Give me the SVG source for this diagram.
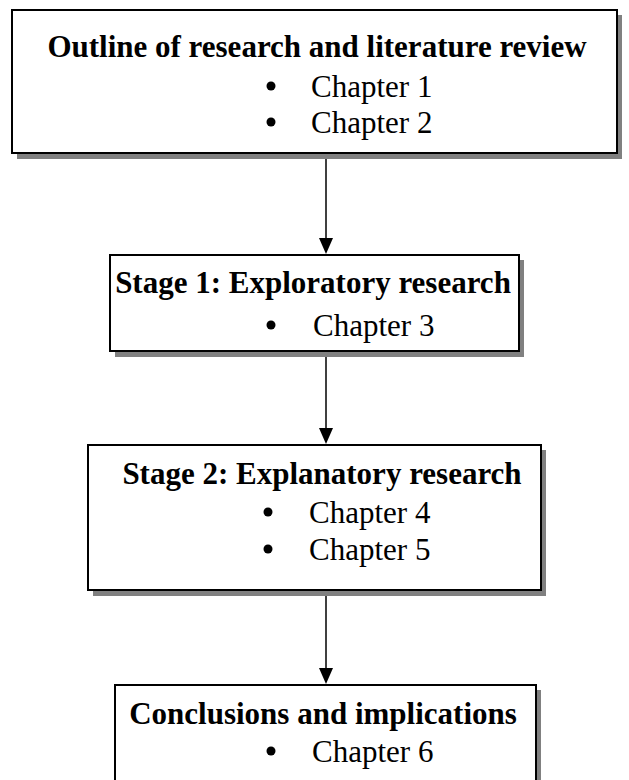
<svg xmlns="http://www.w3.org/2000/svg" width="629" height="780" viewBox="0 0 629 780">
<style>
.box{fill:#fff;stroke:#000;stroke-width:2}
.shadow{fill:#808080}
.t{font-family:"Liberation Serif","Times New Roman",serif;font-size:31px;fill:#000}
.b{font-weight:bold;text-anchor:middle}
.conn{stroke:#000;stroke-width:1.5;fill:none}
.ah{fill:#000}
</style>
<rect width="629" height="780" fill="#fff"/>
<g id="connectors">
<line class="conn" x1="326" y1="153" x2="326" y2="240"/>
<path class="ah" d="M319,238 L333,238 L326,254 Z"/>
<line class="conn" x1="326" y1="351" x2="326" y2="430"/>
<path class="ah" d="M319,428 L333,428 L326,444 Z"/>
<line class="conn" x1="326" y1="590" x2="326" y2="670"/>
<path class="ah" d="M319,668 L333,668 L326,684 Z"/>
</g>
<g id="node1">
<rect class="shadow" x="17" y="15" width="605" height="144"/>
<rect class="box" x="12" y="10" width="605" height="143"/>
<text class="t b" x="317" y="57">Outline of research and literature review</text>
<circle cx="271" cy="86" r="4.5"/>
<text class="t" x="311" y="97">Chapter 1</text>
<circle cx="271" cy="122" r="4.5"/>
<text class="t" x="311" y="133">Chapter 2</text>
</g>
<g id="node2">
<rect class="shadow" x="115" y="260" width="409" height="97"/>
<rect class="box" x="110" y="255" width="409" height="96"/>
<text class="t b" x="313" y="293">Stage 1: Exploratory research</text>
<circle cx="271" cy="325" r="4.5"/>
<text class="t" x="313" y="336">Chapter 3</text>
</g>
<g id="node3">
<rect class="shadow" x="93" y="450" width="453" height="146"/>
<rect class="box" x="88" y="445" width="453" height="145"/>
<text class="t b" x="322" y="484">Stage 2: Explanatory research</text>
<circle cx="268" cy="512" r="4.5"/>
<text class="t" x="309" y="523">Chapter 4</text>
<circle cx="268" cy="549" r="4.5"/>
<text class="t" x="309" y="560">Chapter 5</text>
</g>
<g id="node4">
<rect class="shadow" x="120" y="690" width="421" height="100"/>
<rect class="box" x="115" y="685" width="421" height="100"/>
<text class="t b" x="323" y="724">Conclusions and implications</text>
<circle cx="271" cy="751" r="4.5"/>
<text class="t" x="312" y="762">Chapter 6</text>
</g>
</svg>
